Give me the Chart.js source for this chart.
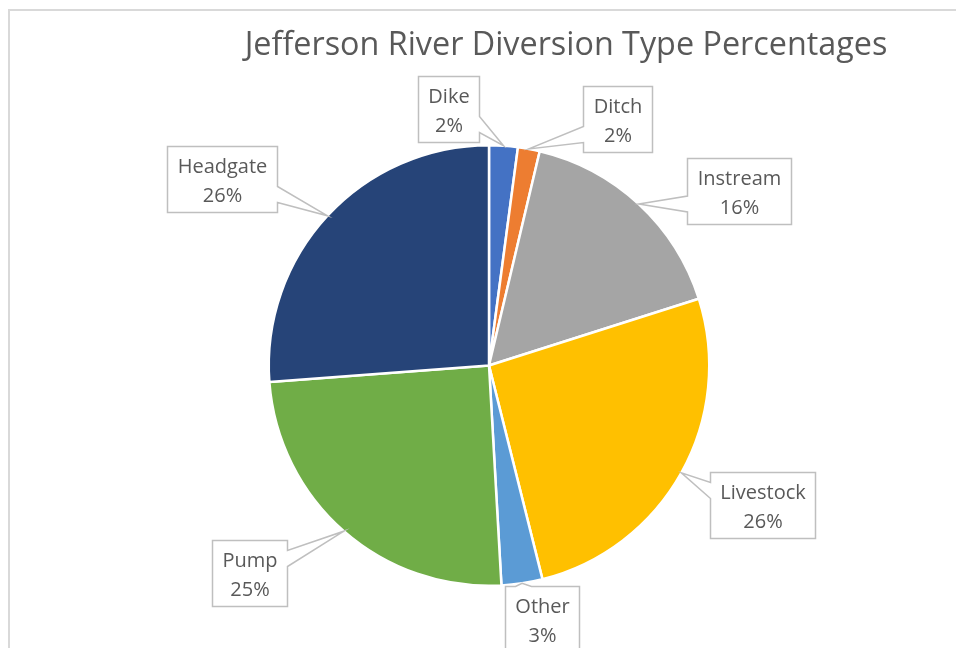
<!DOCTYPE html>
<html>
<head>
<meta charset="utf-8">
<title>Jefferson River Diversion Type Percentages</title>
<script src="https://cdn.jsdelivr.net/npm/chart.js@4.4.0/dist/chart.umd.min.js"></script>
<style>
  html, body { margin: 0; padding: 0; background: #fff; }
</style>
</head>
<body>
<canvas id="pie_pie" width="956" height="648"></canvas>
<script>
const categories = ["Dike", "Ditch", "Instream", "Livestock", "Other", "Pump", "Headgate"];
const percentages = [2.1, 1.6, 16.4, 26.0, 3.0, 24.7, 26.2];
const sliceColors = ["#4472C4", "#ED7D31", "#A5A5A5", "#FFC000", "#5B9BD5", "#70AD47", "#264478"];
const chartTitle = "Jefferson River Diversion Type Percentages";

// box centre offsets from the slice tip, one per slice
const calloutOffsets = [[-55, -37], [89, -30], [100, -13], [81, 32], [20, 36], [-94, 42], [-106, -37]];

const textColor = "#595959";
const fontFamily = "'Open Sans', 'Noto Sans', sans-serif";

const framePlugin = {
  id: "frame",
  beforeDraw(chart) {
    const ctx = chart.ctx;
    ctx.save();
    ctx.fillStyle = "#fff";
    ctx.fillRect(0, 0, chart.width, chart.height);
    ctx.strokeStyle = "#d9d9d9";
    ctx.lineWidth = 2;
    ctx.strokeRect(9, 10, 1200, 1000);

    // title, sized to the width it has in the original
    let size = 32;
    ctx.font = size + "px " + fontFamily;
    size = size * 643 / ctx.measureText(chartTitle).width;
    ctx.font = size + "px " + fontFamily;
    ctx.fillStyle = textColor;
    ctx.textAlign = "center";
    ctx.textBaseline = "middle";
    ctx.fillText(chartTitle, 566, 46);
    ctx.restore();
  }
};

const calloutPlugin = {
  id: "callouts",
  afterDatasetsDraw(chart, args, opts) {
    const ctx = chart.ctx;
    const meta = chart.getDatasetMeta(0);
    const values = chart.data.datasets[0].data;
    const total = values.reduce((a, b) => a + b, 0);
    ctx.save();
    ctx.font = opts.font;
    meta.data.forEach((arc, i) => {
      const p = arc.getProps(["x", "y", "startAngle", "endAngle", "outerRadius"], true);
      const mid = (p.startAngle + p.endAngle) / 2;
      const tx = p.x + Math.cos(mid) * p.outerRadius;
      const ty = p.y + Math.sin(mid) * p.outerRadius;
      const lines = [chart.data.labels[i], Math.round(values[i] / total * 100) + "%"];
      const w = Math.round(Math.max(...lines.map(s => ctx.measureText(s).width)) + 20);
      const h = 66;
      const [ox, oy] = opts.offsets[i];
      const cx = tx + ox, cy = ty + oy;
      const l = Math.round(cx - w / 2) + 0.5, r = l + w;
      const t = Math.round(cy - h / 2) + 0.5, b = t + h;

      const outX = Math.max(0, Math.abs(tx - cx) - w / 2);
      const outY = Math.max(0, Math.abs(ty - cy) - h / 2);
      const m = 18, hw = 8;
      const pts = [];
      pts.push([l, t]);
      if (outY > outX && ty < t) {
        const c = Math.min(Math.max(tx, l + m), r - m);
        pts.push([c - hw, t], [tx, ty], [c + hw, t]);
      }
      pts.push([r, t]);
      if (outX >= outY && tx > r) {
        const c = Math.min(Math.max(ty, t + m), b - m);
        pts.push([r, c - hw], [tx, ty], [r, c + hw]);
      }
      pts.push([r, b]);
      if (outY > outX && ty > b) {
        const c = Math.min(Math.max(tx, l + m), r - m);
        pts.push([c + hw, b], [tx, ty], [c - hw, b]);
      }
      pts.push([l, b]);
      if (outX >= outY && tx < l) {
        const c = Math.min(Math.max(ty, t + m), b - m);
        pts.push([l, c + hw], [tx, ty], [l, c - hw]);
      }

      ctx.beginPath();
      pts.forEach((pt, k) => k ? ctx.lineTo(pt[0], pt[1]) : ctx.moveTo(pt[0], pt[1]));
      ctx.closePath();
      ctx.fillStyle = "#fff";
      ctx.fill();
      ctx.strokeStyle = "#bfbfbf";
      ctx.lineWidth = 1.5;
      ctx.stroke();

      ctx.fillStyle = textColor;
      ctx.textAlign = "center";
      ctx.textBaseline = "middle";
      ctx.fillText(lines[0], (l + r) / 2, (t + b) / 2 - 12);
      ctx.fillText(lines[1], (l + r) / 2, (t + b) / 2 + 17);
    });
    ctx.restore();
  }
};

const ctx = document.getElementById("pie_pie").getContext("2d");
new Chart(ctx, {
  type: "pie",
  data: {
    labels: categories,
    datasets: [
      {
        data: percentages,
        backgroundColor: sliceColors,
        borderColor: "#ffffff",
        borderWidth: 2.5
      }
    ]
  },
  options: {
    responsive: false,
    animation: false,
    layout: {
      padding: { top: 144, bottom: 61, left: 267, right: 245 }
    },
    plugins: {
      legend: { display: false },
      tooltip: { enabled: false },
      title: { display: false },
      callouts: {
        offsets: calloutOffsets,
        font: "20px " + fontFamily
      }
    }
  },
  plugins: [framePlugin, calloutPlugin]
});
</script>
</body>
</html>
